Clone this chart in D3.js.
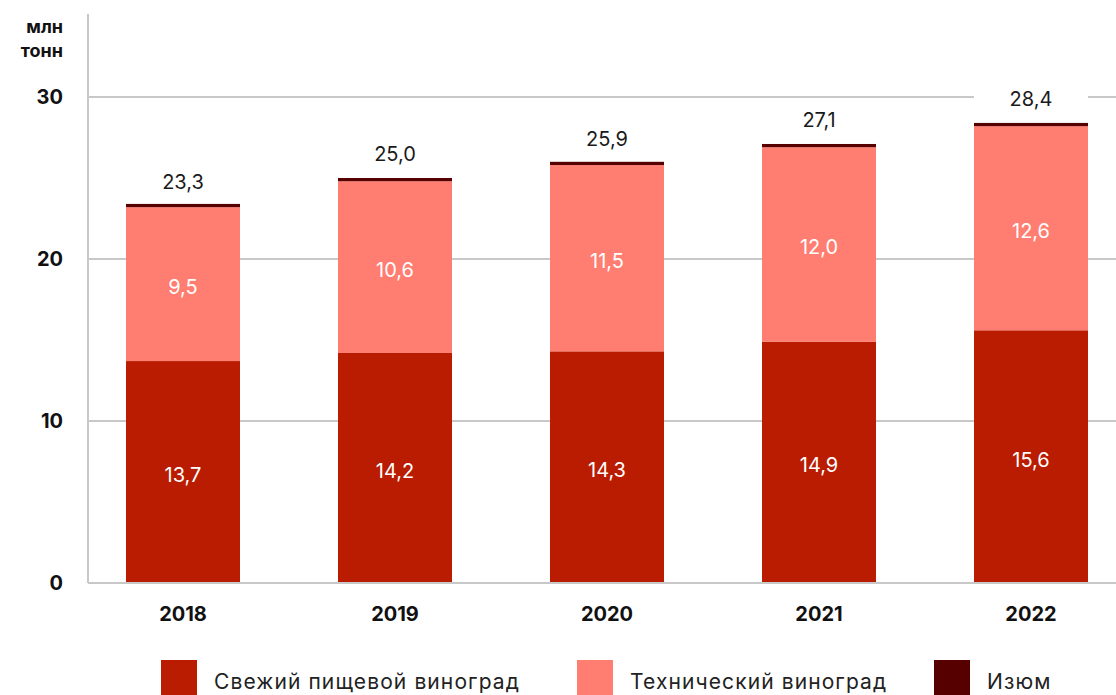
<!DOCTYPE html>
<html>
<head>
<meta charset="utf-8">
<script src="https://cdn.jsdelivr.net/npm/d3@7"></script>
<style>
  body { margin: 0; background: #fff; }
  svg { display: block; font-family: Inter, "Noto Sans", sans-serif; }
</style>
</head>
<body>
<svg id="chart" width="1116" height="695"></svg>
<script>
var years = ["2018", "2019", "2020", "2021", "2022"];
var fresh = [13.7, 14.2, 14.3, 14.9, 15.6];
var technical = [9.5, 10.6, 11.5, 12.0, 12.6];
var raisins = [0.2, 0.2, 0.2, 0.2, 0.2];
var totals = [23.3, 25.0, 25.9, 27.1, 28.4];
var yTicks = [0, 10, 20, 30];
var seriesNames = ["Свежий пищевой виноград", "Технический виноград", "Изюм"];
var colors = ["#b91c00", "#ff7d71", "#560000"];

var svg = d3.select("#chart"),
    margin = {top: 14, right: 0, bottom: 112, left: 88},
    width = 1116 - margin.left - margin.right,
    height = 695 - margin.top - margin.bottom,
    g = svg.append("g").attr("transform", "translate(" + margin.left + "," + margin.top + ")");

var fmt = function(v) { return d3.format(".1f")(v).replace(".", ","); };

var x = d3.scaleBand().domain(years).range([0, 1038]).paddingInner(0.4623).paddingOuter(0.1792);
var y = d3.scaleLinear().domain([0, 30]).range([height, height - 486]);

// gridlines
g.append("g")
  .selectAll("line")
  .data(yTicks.slice(1))
  .join("line")
    .attr("x1", 0).attr("x2", width)
    .attr("y1", function(d) { return y(d); })
    .attr("y2", function(d) { return y(d); })
    .attr("stroke", "#c8c8c8").attr("stroke-width", 2);

var rows = years.map(function(yr, i) {
  return {year: yr, fresh: fresh[i], technical: technical[i], raisins: raisins[i]};
});
var stack = d3.stack().keys(["fresh", "technical", "raisins"]);
var layers = stack(rows);

g.append("g")
  .selectAll("g")
  .data(layers)
  .join("g")
    .attr("fill", function(d, i) { return colors[i]; })
  .selectAll("rect")
  .data(function(d) { return d; })
  .join("rect")
    .attr("x", function(d) { return x(d.data.year); })
    .attr("y", function(d) { return y(d[1]); })
    .attr("width", x.bandwidth())
    .attr("height", function(d) { return y(d[0]) - y(d[1]); });

// inner labels (first two series)
layers.slice(0, 2).forEach(function(layer) {
  g.append("g")
    .selectAll("text")
    .data(layer)
    .join("text")
      .attr("x", function(d) { return x(d.data.year) + x.bandwidth() / 2; })
      .attr("y", function(d) { return (y(d[0]) + y(d[1])) / 2 + 3; })
      .attr("dy", "0.35em")
      .attr("text-anchor", "middle")
      .attr("fill", "#fff")
      .attr("font-size", 20)
      .text(function(d) { return fmt(d[1] - d[0]); });
});

// totals with white backing
var tot = g.append("g").selectAll("g").data(years).join("g");
tot.append("rect")
  .attr("x", function(d) { return x(d); })
  .attr("y", function(d, i) { return y(totals[i]) - 42; })
  .attr("width", x.bandwidth())
  .attr("height", 32)
  .attr("fill", "#fff");
tot.append("text")
  .attr("x", function(d) { return x(d) + x.bandwidth() / 2; })
  .attr("y", function(d, i) { return y(totals[i]) - 17; })
  .attr("text-anchor", "middle")
  .attr("fill", "#1a1a1a")
  .attr("font-size", 20)
  .text(function(d, i) { return fmt(totals[i]); });

// axes
g.append("line").attr("x1", 0).attr("x2", 0).attr("y1", 0).attr("y2", height)
  .attr("stroke", "#c8c8c8").attr("stroke-width", 2);
g.append("line").attr("x1", 0).attr("x2", width).attr("y1", height).attr("y2", height)
  .attr("stroke", "#c8c8c8").attr("stroke-width", 2);

var yAxis = g.append("g")
  .call(d3.axisLeft(y).tickValues(yTicks).tickSize(0).tickPadding(25));
yAxis.select(".domain").remove();
yAxis.selectAll("text")
  .attr("font-family", "Inter, sans-serif")
  .attr("font-size", 20).attr("font-weight", 700).attr("fill", "#111");

var xAxis = g.append("g")
  .attr("transform", "translate(0," + height + ")")
  .call(d3.axisBottom(x).tickSize(0).tickPadding(24));
xAxis.select(".domain").remove();
xAxis.selectAll("text")
  .attr("font-family", "Inter, sans-serif")
  .attr("font-size", 20).attr("font-weight", 700).attr("fill", "#111");

// unit label
var unit = svg.append("text")
  .attr("text-anchor", "end")
  .attr("font-size", 18).attr("font-weight", 700).attr("fill", "#111");
unit.append("tspan").attr("x", 63).attr("y", 33).text("млн");
unit.append("tspan").attr("x", 63).attr("y", 57).text("тонн");

// legend
var legendX = [161, 577, 934];
var legend = svg.append("g").selectAll("g").data(seriesNames).join("g")
  .attr("transform", function(d, i) { return "translate(" + legendX[i] + ",660)"; });
legend.append("rect").attr("width", 36).attr("height", 36)
  .attr("fill", function(d, i) { return colors[i]; });
legend.append("text")
  .attr("x", 53).attr("y", 29)
  .attr("font-size", 21).attr("letter-spacing", 1.1).attr("fill", "#222")
  .text(function(d) { return d; });
</script>
</body>
</html>
